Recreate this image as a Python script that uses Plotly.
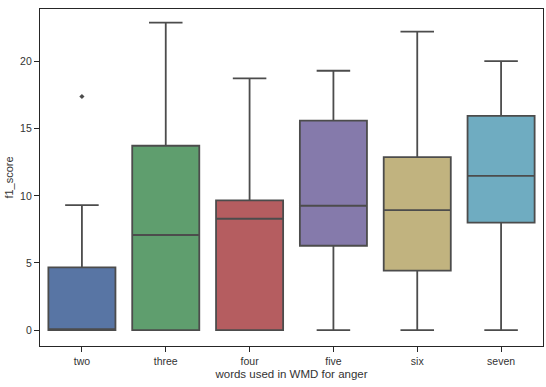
import plotly.graph_objects as go

categories = ["two", "three", "four", "five", "six", "seven"]
q1 = [0.0, 0.0, 0.0, 6.28, 4.42, 8.0]
median = [0.0, 7.08, 8.29, 9.26, 8.94, 11.48]
q3 = [4.67, 13.73, 9.66, 15.6, 12.89, 15.95]
lowerfence = [0.0, 0.0, 0.0, 0.0, 0.0, 0.0]
upperfence = [9.31, 22.9, 18.75, 19.32, 22.23, 20.04]
outlier_cat = ["two"]
outlier_val = [17.4]
colors = ["#5875A4", "#5F9E6E", "#B55D60", "#857AAB", "#C1B37F", "#6FACC1"]
line_color = "#4C4C4C"

fig = go.Figure()
for i, c in enumerate(categories):
    fig.add_trace(go.Box(
        x=[c], q1=[q1[i]], median=[median[i]], q3=[q3[i]],
        lowerfence=[lowerfence[i]], upperfence=[upperfence[i]],
        fillcolor=colors[i], line=dict(color=line_color, width=1.8),
        whiskerwidth=0.5, width=0.8, boxpoints=False, showlegend=False,
        hoverinfo="skip",
    ))
fig.add_trace(go.Scatter(
    x=outlier_cat, y=outlier_val, mode="markers",
    marker=dict(symbol="diamond", size=4, color=line_color),
    showlegend=False,
))

font = dict(family="Liberation Sans, Arial, sans-serif", size=10.5, color="#333333")
fig.update_layout(
    width=546, height=387,
    margin=dict(l=40, r=3, t=9, b=41),
    paper_bgcolor="white", plot_bgcolor="white",
    font=font,
    xaxis=dict(
        type="category", categoryorder="array", categoryarray=categories,
        range=[-0.5, 5.5], showline=True, linecolor="#262626", linewidth=1.2,
        mirror=True, ticks="outside", ticklen=5, tickwidth=1, tickcolor="#262626",
        showgrid=False, zeroline=False,
        title=dict(text="words used in WMD for anger", standoff=4, font=dict(size=11.5)),
    ),
    yaxis=dict(
        range=[-1.19, 23.92], tickvals=[0, 5, 10, 15, 20],
        showline=True, linecolor="#262626", linewidth=1.2, mirror=True,
        ticks="outside", ticklen=5, tickwidth=1, tickcolor="#262626",
        showgrid=False, zeroline=False,
        title=dict(text="f1_score", standoff=4, font=dict(size=11)),
    ),
)

fig.write_html("out.html")
